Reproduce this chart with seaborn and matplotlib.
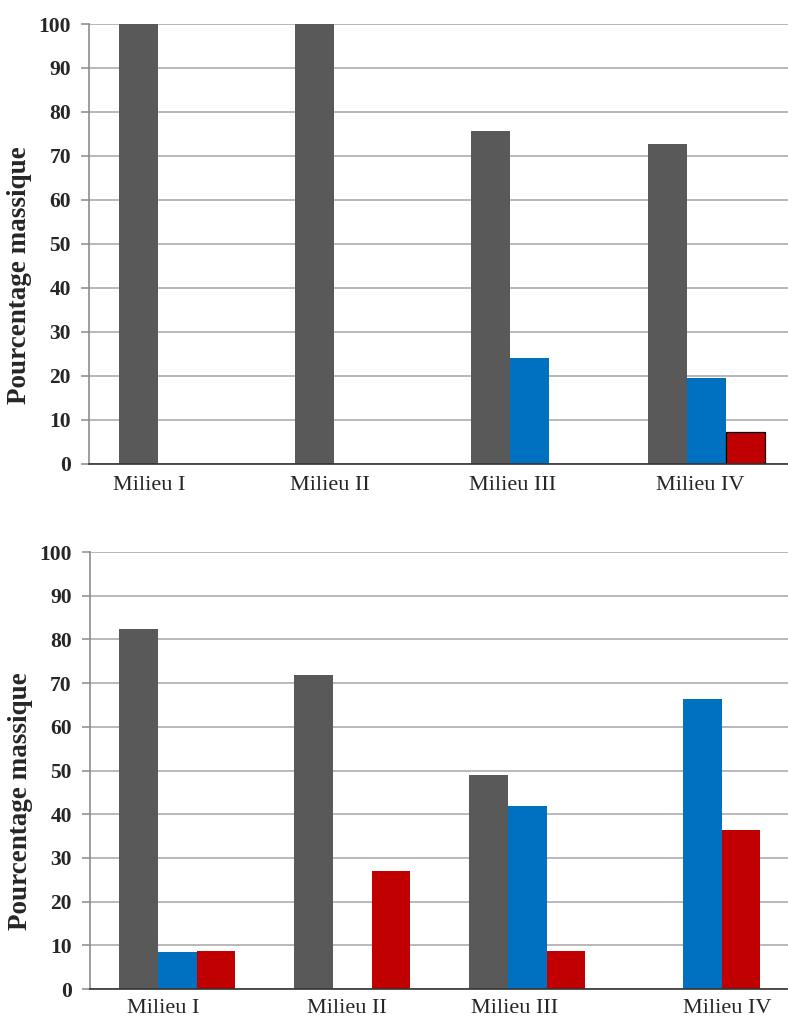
import pandas as pd
import matplotlib.pyplot as plt
import seaborn as sns

sns.set_style('white')
plt.rcParams['font.family'] = ['Liberation Serif', 'DejaVu Serif']

milieux = ['Milieu I', 'Milieu II', 'Milieu III', 'Milieu IV']
series = ['serie 1', 'serie 2', 'serie 3']
colors = ['#595959', '#0070C0', '#C00000']

# panel du haut
haut_s1 = [100, 100, 75.7, 72.7]
haut_s2 = [0, 0, 24.1, 19.6]
haut_s3 = [0, 0, 0, 7.3]

# panel du bas
bas_s1 = [82.4, 71.8, 48.9, 0]
bas_s2 = [8.4, 0, 41.9, 66.4]
bas_s3 = [8.7, 26.9, 8.7, 36.3]


def to_long(s1, s2, s3):
    rows = []
    for name, vals in zip(series, [s1, s2, s3]):
        for m, v in zip(milieux, vals):
            rows.append({'milieu': m, 'serie': name, 'valeur': v})
    return pd.DataFrame(rows)


def draw(ax, df, xmax, shifts, pad):
    sns.barplot(data=df, x='milieu', y='valeur', hue='serie', order=milieux,
                hue_order=series, palette=colors, saturation=1, width=0.664,
                linewidth=0, legend=False, ax=ax)
    ax.set_xlim(-0.5, xmax)
    ax.set_ylim(0, 100)
    ax.set_yticks(range(0, 101, 10))
    ax.yaxis.grid(True, color='#a6a6a6', linewidth=1.1)
    ax.set_axisbelow(True)
    for side in ['top', 'right']:
        ax.spines[side].set_visible(False)
    ax.spines['left'].set_color('#8c8c8c')
    ax.spines['left'].set_linewidth(1.2)
    ax.spines['bottom'].set_color('#333333')
    ax.spines['bottom'].set_linewidth(1.2)
    ax.tick_params(axis='y', which='major', left=True, length=6, width=1.1,
                   color='#8c8c8c', pad=7, labelsize=15.5)
    for lab in ax.get_yticklabels():
        lab.set_fontweight('bold')
    ax.set_xticks([i + s for i, s in enumerate(shifts)])
    ax.set_xticklabels(milieux, fontsize=16)
    ax.tick_params(axis='x', length=0, pad=pad)
    ax.set_xlabel('')
    ax.set_ylabel('Pourcentage massique', fontsize=19.5, fontweight='bold')
    ax.yaxis.set_label_coords(-0.082, 0.43)


fig = plt.figure(figsize=(7.88, 10.17), dpi=100)
ax1 = fig.add_axes([0.113, 0.5438, 0.887, 0.4326])
ax2 = fig.add_axes([0.114, 0.0275, 0.886, 0.4297])

draw(ax1, to_long(haut_s1, haut_s2, haut_s3), 3.465,
     [-0.156, -0.135, -0.10, -0.03], 9)
draw(ax2, to_long(bas_s1, bas_s2, bas_s3), 3.49,
     [-0.083, -0.03, -0.07, 0.14], 7)

# contour noir sur la barre rouge du haut
for p in ax1.containers[2]:
    if p.get_height() > 0:
        p.set_edgecolor('black')
        p.set_linewidth(0.9)

plt.savefig('out.png', dpi=100)
plt.close(fig)
